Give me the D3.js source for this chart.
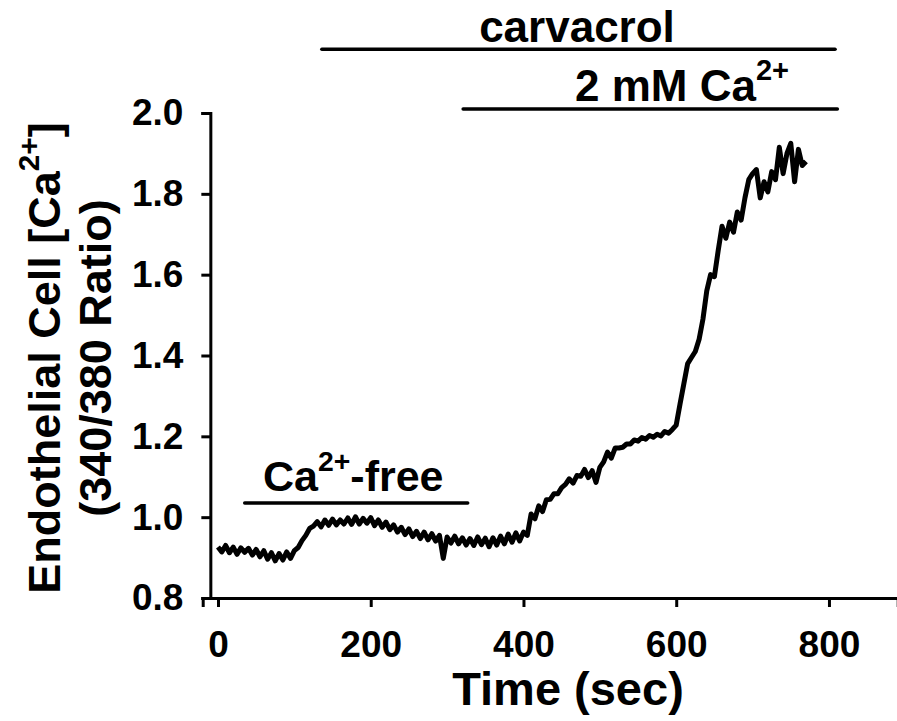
<!DOCTYPE html>
<html>
<head>
<meta charset="utf-8">
<script src="https://cdn.jsdelivr.net/npm/d3@7"></script>
<style>
  body { margin: 0; background: #fff; }
  svg text { font-family: "Liberation Sans", Arial, sans-serif; font-weight: bold; fill: #000; }
</style>
</head>
<body>
<div class="chart"></div>
<script>
const width = 897;
const height = 721;

// time in seconds, every 5 s
const times = d3.range(0, 771, 5);
const ratios = [
  0.926, 0.914, 0.930, 0.912, 0.926, 0.908, 0.924, 0.913, 0.923, 0.906,
  0.920, 0.902, 0.917, 0.896, 0.912, 0.892, 0.910, 0.894, 0.914, 0.898,
  0.917, 0.925, 0.942, 0.955, 0.972, 0.978, 0.989, 0.976, 0.993, 0.980,
  0.995, 0.981, 0.993, 0.983, 0.998, 0.982, 1.001, 0.983, 0.997, 0.985,
  0.999, 0.979, 0.993, 0.975, 0.988, 0.969, 0.981, 0.963, 0.975, 0.957,
  0.971, 0.952, 0.965, 0.947, 0.963, 0.944, 0.959, 0.941, 0.955, 0.898,
  0.951, 0.936, 0.953, 0.934, 0.949, 0.931, 0.947, 0.930, 0.951, 0.932,
  0.948, 0.927, 0.949, 0.931, 0.953, 0.934, 0.958, 0.938, 0.961, 0.941,
  0.963, 0.955, 1.008, 0.996, 1.028, 1.014, 1.043, 1.044, 1.058, 1.058,
  1.073, 1.081, 1.095, 1.084, 1.103, 1.101, 1.118, 1.098, 1.115, 1.086,
  1.123, 1.137, 1.161, 1.146, 1.171, 1.171, 1.173, 1.181, 1.181, 1.191,
  1.188, 1.197, 1.193, 1.202, 1.198, 1.205, 1.201, 1.212, 1.208, 1.217,
  1.228, 1.280, 1.330, 1.380, 1.395, 1.410, 1.440, 1.490, 1.560, 1.600,
  1.595, 1.660, 1.720, 1.690, 1.730, 1.705, 1.755, 1.735, 1.790, 1.835,
  1.850, 1.860, 1.790, 1.830, 1.805, 1.855, 1.835, 1.915, 1.850, 1.900,
  1.925, 1.830, 1.910, 1.870, 1.880
];

const xTicks = [0, 200, 400, 600, 800];
const yTicks = [0.8, 1.0, 1.2, 1.4, 1.6, 1.8, 2.0];

// treatment bars: time span in s and level on the ratio axis
const bars = [
  {name: "Ca-free", start: 35, end: 327, level: 1.035},
  {name: "carvacrol", start: 136, end: 808, level: 2.158},
  {name: "2 mM Ca", start: 321, end: 811, level: 2.01}
];

const svg = d3.select(".chart")
  .append("svg")
  .attr("width", width)
  .attr("height", height);

const xScale = d3.scaleLinear()
  .domain([-20, 890])
  .range([202.7, 897.7]);

const yScale = d3.scaleLinear()
  .domain([0.8, 2.0])
  .range([598, 113]);

const xAxis = d3.axisBottom(xScale)
  .tickValues(xTicks)
  .tickFormat(d3.format("d"))
  .tickSizeOuter(0)
  .tickSize(9)
  .tickPadding(24);

const yAxis = d3.axisLeft(yScale)
  .tickValues(yTicks)
  .tickFormat(d3.format(".1f"))
  .tickSizeOuter(0)
  .tickSize(9)
  .tickPadding(18);

const gx = svg.append("g")
  .attr("transform", `translate(0, ${yScale(0.8)})`)
  .call(xAxis);

const gy = svg.append("g")
  .attr("transform", `translate(${xScale(-10)}, 0)`)
  .call(yAxis);

[gx, gy].forEach(g => {
  g.selectAll("path, line").attr("stroke", "#000").attr("stroke-width", 3);
  g.selectAll("text").attr("font-size", 37).attr("fill", "#000");
});

// the trace
const line = d3.line()
  .x((d, i) => xScale(times[i]))
  .y(d => yScale(d));

svg.append("path")
  .datum(ratios)
  .attr("fill", "none")
  .attr("stroke", "#000")
  .attr("stroke-width", 5)
  .attr("stroke-linejoin", "round")
  .attr("d", line);

// treatment bars
svg.selectAll(".bar")
  .data(bars)
  .enter().append("line")
  .attr("class", "bar")
  .attr("x1", d => xScale(d.start))
  .attr("x2", d => xScale(d.end))
  .attr("y1", d => yScale(d.level))
  .attr("y2", d => yScale(d.level))
  .attr("stroke", "#000")
  .attr("stroke-width", 3.5)
  .attr("stroke-linecap", "round");

function supText(sel, main, sup, after) {
  sel.append("tspan").text(main);
  sel.append("tspan").attr("font-size", "0.66em").attr("dy", "-0.72em").text(sup);
  if (after) sel.append("tspan").attr("dy", "0.475em").text(after);
}

svg.append("text")
  .attr("x", 263).attr("y", 491)
  .attr("font-size", 43)
  .call(supText, "Ca", "2+", "-free");

svg.append("text")
  .attr("x", 577).attr("y", 42)
  .attr("text-anchor", "middle")
  .attr("font-size", 44)
  .text("carvacrol");

svg.append("text")
  .attr("x", 575).attr("y", 101)
  .attr("font-size", 44)
  .call(supText, "2 mM Ca", "2+", "");

// axis titles
svg.append("text")
  .attr("x", 568).attr("y", 705)
  .attr("text-anchor", "middle")
  .attr("font-size", 47)
  .text("Time (sec)");

const yTitle = svg.append("g")
  .attr("transform", "translate(60, 358) rotate(-90)");

yTitle.append("text")
  .attr("text-anchor", "middle")
  .attr("font-size", 45)
  .call(supText, "Endothelial Cell [Ca", "2+", "]");

yTitle.append("text")
  .attr("y", 51)
  .attr("text-anchor", "middle")
  .attr("font-size", 45)
  .text("(340/380 Ratio)");
</script>
</body>
</html>
